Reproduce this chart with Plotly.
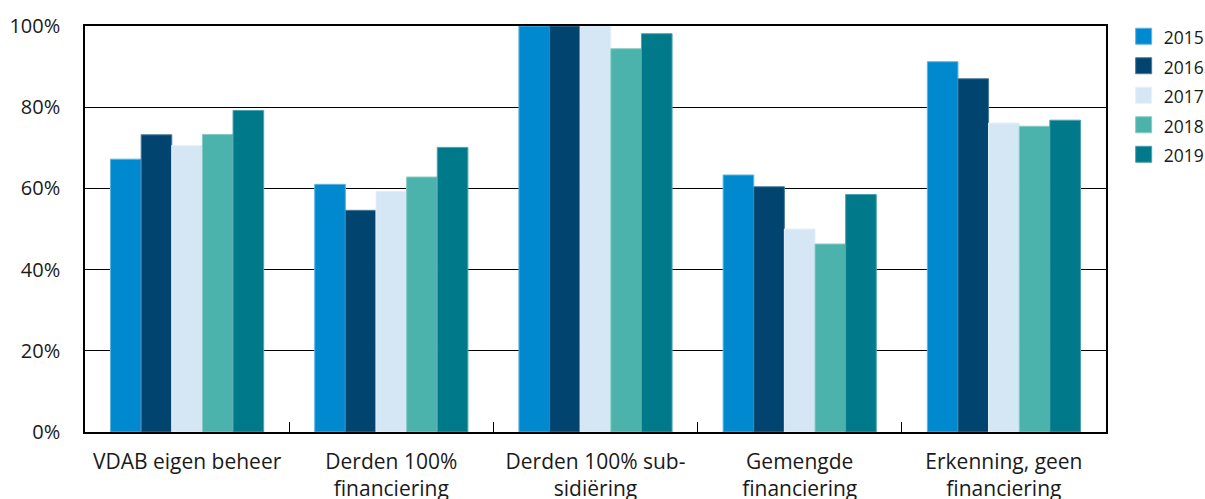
import plotly.graph_objects as go

categories = ["VDAB eigen beheer", "Derden 100%<br>financiering", "Derden 100% sub-<br>sidiëring",
              "Gemengde<br>financiering", "Erkenning, geen<br>financiering"]
years = ["2015", "2016", "2017", "2018", "2019"]
v2015 = [67.2, 61.0, 100.0, 63.3, 91.2]
v2016 = [73.2, 54.6, 100.0, 60.4, 87.0]
v2017 = [70.6, 59.3, 100.0, 50.0, 76.1]
v2018 = [73.3, 62.8, 94.4, 46.3, 75.3]
v2019 = [79.2, 70.1, 98.1, 58.5, 76.8]
series = [v2015, v2016, v2017, v2018, v2019]
ytickvals = [0, 20, 40, 60, 80, 100]
yticktext = ["0%", "20%", "40%", "60%", "80%", "100%"]
colors = ["#0089CF", "#00446F", "#D5E6F4", "#4BB3AB", "#007A8A"]
edge = ["#5FB3E3", "#4D7A9A", "#E8F1F9", "#86CBC5", "#4DA2AD"]

fig = go.Figure()
for y, vals, c, e in zip(years, series, colors, edge):
    fig.add_trace(go.Bar(x=categories, y=vals, name=y, showlegend=False, legendgroup=y,
                         marker=dict(color=c, line=dict(color=e, width=1))))
# legend entries (square swatches)
for y, c, e in zip(years, colors, edge):
    fig.add_trace(go.Scatter(x=[None], y=[None], mode="markers", legendgroup=y,
                             name='<span style="font-size:17.5px">' + y + '</span>',
                             marker=dict(symbol="square", size=16, color=c,
                                         line=dict(color=e, width=1))))

font = "Open Sans, Noto Sans, sans-serif"
fig.update_layout(
    width=1205, height=499,
    margin=dict(l=85, r=99, t=26, b=67, autoexpand=False),
    paper_bgcolor="white", plot_bgcolor="white",
    barmode="group", bargap=0.25, bargroupgap=0,
    font=dict(family=font, color="#1a1a1a"),
    showlegend=True,
    legend=dict(xref="container", yref="container", x=0.9325, y=0.967,
                xanchor="left", yanchor="top",
                font=dict(size=20.4, color="#1a1a1a"), tracegroupgap=0,
                itemwidth=30),
)
fig.update_xaxes(
    type="category", showline=True, linecolor="black", linewidth=1.5, mirror=True,
    ticks="inside", tickson="boundaries", ticklen=10, tickcolor="black", tickwidth=1,
    tickfont=dict(size=21, color="#1a1a1a"), automargin=False, showgrid=False,
    ticklabelstandoff=10,
)
fig.update_yaxes(
    range=[0, 100], tickvals=ytickvals, ticktext=yticktext,
    showgrid=True, gridcolor="black", gridwidth=1,
    showline=True, linecolor="black", linewidth=1.5, mirror=True,
    ticks="", tickfont=dict(size=20, color="#1a1a1a"), ticklabelstandoff=19,
    automargin=False, zeroline=False,
)
fig.write_html("out.html", config={"displayModeBar": False},
               post_script="document.body.style.margin='0';document.body.style.overflow='hidden';")
